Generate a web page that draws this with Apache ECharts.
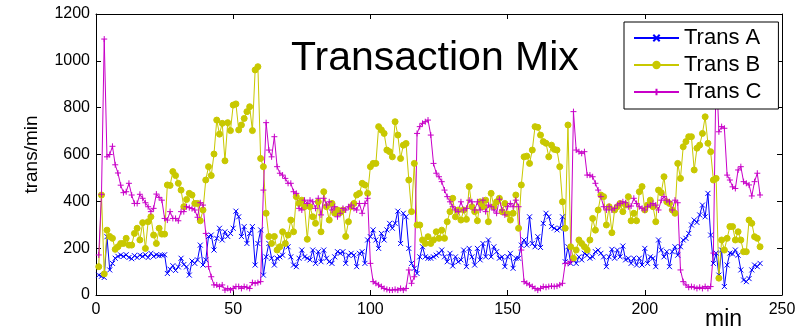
<!DOCTYPE html>
<html>
<head>
<meta charset="utf-8">
<title>Transaction Mix</title>
<script src="https://cdn.jsdelivr.net/npm/echarts@6/dist/echarts.min.js"></script>
<style>
  *{margin:0;padding:0;}
  body{background:#fff;}
  #main{width:810px;height:330px;}
</style>
</head>
<body>
<div id="main"></div>
<script type="text/javascript">
// transactions per minute, one value per minute starting at minute 1
var transA = [
  85, 80, 75, 249, 107, 135, 157, 165, 171, 165,
  172, 160, 155, 168, 160, 170, 165, 172, 160, 178,
  165, 172, 168, 170, 172, 92, 110, 125, 105, 120,
  157, 130, 120, 85, 145, 135, 150, 213, 128, 150,
  250, 256, 192, 242, 285, 235, 270, 250, 263, 285,
  358, 334, 250, 292, 220, 263, 292, 128, 220, 278,
  85, 163, 220, 157, 128, 157, 163, 170, 220, 206,
  163, 128, 121, 157, 192, 163, 157, 150, 192, 135,
  185, 142, 192, 157, 142, 135, 163, 185, 178, 185,
  135, 170, 178, 170, 121, 178, 185, 135, 235, 249,
  278, 235, 199, 263, 235, 278, 306, 285, 306, 358,
  220, 349, 334, 199, 135, 114, 92, 163, 206, 163,
  157, 157, 163, 170, 178, 192, 163, 142, 178, 124,
  163, 142, 150, 192, 121, 199, 163, 128, 199, 150,
  220, 163, 235, 163, 206, 185, 157, 163, 121, 163,
  178, 114, 157, 157, 213, 235, 213, 334, 220, 206,
  249, 203, 306, 349, 334, 292, 285, 278, 285, 334,
  142, 206, 135, 150, 135, 163, 150, 178, 170, 157,
  163, 185, 192, 178, 163, 121, 163, 195, 157, 192,
  163, 209, 150, 157, 135, 157, 128, 157, 128, 199,
  135, 163, 157, 121, 235, 192, 163, 185, 121, 185,
  206, 170, 206, 235, 242, 263, 299, 320, 310, 342,
  384, 334, 434, 256, 135, 179, 85, 192, 36, 128,
  179, 175, 192, 170, 107, 64, 57, 70, 107, 128,
  121, 135
];
var transB = [
  121, 427, 90, 277, 250, 242, 195, 206, 220, 220,
  242, 213, 213, 263, 285, 235, 309, 199, 313, 334,
  256, 220, 285, 260, 260, 470, 468, 527, 510, 477,
  448, 377, 408, 434, 427, 391, 391, 317, 363, 491,
  548, 510, 602, 747, 687, 733, 573, 736, 702, 811,
  816, 705, 726, 754, 783, 804, 702, 961, 975, 583,
  548, 349, 250, 220, 250, 192, 206, 270, 220, 256,
  320, 270, 420, 391, 405, 377, 238, 377, 334, 306,
  398, 270, 441, 377, 320, 391, 349, 363, 352, 363,
  250, 313, 377, 391, 427, 434, 477, 470, 434, 548,
  562, 562, 719, 705, 690, 619, 612, 590, 740, 683,
  583, 640, 647, 491, 356, 562, 299, 299, 235, 220,
  249, 220, 235, 270, 242, 277, 242, 313, 356, 413,
  334, 363, 320, 363, 323, 463, 377, 356, 317, 398,
  377, 405, 313, 434, 377, 398, 413, 356, 391, 346,
  320, 349, 427, 285, 470, 590, 593, 562, 619, 719,
  716, 683, 655, 648, 590, 640, 622, 619, 548, 398,
  285, 726, 206, 157, 192, 235, 220, 206, 192, 235,
  327, 277, 363, 427, 420, 299, 377, 266, 363, 377,
  391, 356, 384, 420, 317, 349, 317, 441, 463, 363,
  384, 405, 377, 313, 448, 437, 505, 398, 391, 363,
  349, 562, 498, 633, 655, 676, 676, 534, 627, 640,
  690, 761, 648, 612, 491, 498, 72, 235, 192, 242,
  292, 292, 235, 270, 235, 185, 185, 320, 306, 249,
  242, 206
];
var transC = [
  171, 430, 1093, 590, 600, 635, 556, 521, 469, 437,
  441, 477, 427, 391, 391, 430, 413, 394, 377, 356,
  370, 431, 417, 405, 327, 320, 356, 327, 327, 317,
  356, 356, 377, 373, 369, 363, 332, 394, 384, 263,
  121, 78, 43, 43, 36, 43, 21, 28, 21, 28,
  36, 36, 28, 36, 33, 28, 53, 50, 53, 57,
  448, 736, 619, 590, 676, 548, 520, 512, 498, 477,
  477, 441, 434, 370, 363, 405, 391, 405, 398, 370,
  413, 342, 413, 384, 398, 363, 377, 334, 349, 370,
  363, 377, 384, 370, 363, 391, 349, 391, 413, 135,
  57, 50, 43, 36, 28, 24, 21, 21, 24, 21,
  28, 21, 28, 107, 50, 78, 690, 719, 733, 740,
  747, 683, 562, 520, 505, 484, 448, 420, 398, 377,
  363, 356, 398, 363, 370, 405, 398, 363, 398, 363,
  405, 356, 384, 377, 363, 349, 409, 363, 342, 377,
  391, 377, 405, 377, 192, 57, 50, 43, 36, 28,
  21, 28, 36, 33, 36, 38, 36, 38, 43, 50,
  135, 135, 142, 783, 619, 612, 605, 612, 512, 512,
  505, 477, 448, 420, 377, 363, 377, 363, 370, 384,
  391, 398, 394, 377, 380, 413, 391, 377, 370, 363,
  377, 384, 391, 384, 363, 405, 420, 405, 398, 363,
  405, 394, 107, 57, 43, 33, 36, 33, 28, 33,
  28, 36, 28, 36, 179, 980, 697, 719, 712, 512,
  491, 462, 455, 534, 548, 484, 477, 470, 423, 484,
  520, 427
];
var xTicks = [0, 250, 50];     // min, max, step (minutes)
var yTicks = [0, 1200, 200];   // min, max, step (trans/min)

function toPairs(arr) {
  var out = [];
  for (var i = 0; i < arr.length; i++) out.push([i + 1, arr[i]]);
  return out;
}

var font = 'Liberation Sans';
var myChart = echarts.init(document.getElementById('main'));

function lineSeries(name, data, color, symbol, size) {
  return {
    name: name,
    type: 'line',
    data: toPairs(data),
    symbol: symbol,
    symbolSize: size,
    showAllSymbol: true,
    lineStyle: {color: color, width: 1},
    itemStyle: {color: color, borderColor: color, borderWidth: 1},
    emphasis: {disabled: true}
  };
}

var axisX = function (pos, labels) {
  return {
    type: 'value', position: pos, min: xTicks[0], max: xTicks[1], interval: xTicks[2],
    axisLine: {show: true, onZero: false, lineStyle: {color: '#000', width: 1}},
    axisTick: {show: true, inside: true, length: 5, lineStyle: {color: '#000'}},
    axisLabel: {show: labels, color: '#000', fontSize: 16, fontFamily: font, margin: 7},
    splitLine: {show: false}
  };
};
var axisY = function (pos, labels) {
  return {
    type: 'value', position: pos, min: yTicks[0], max: yTicks[1], interval: yTicks[2],
    axisLine: {show: true, onZero: false, lineStyle: {color: '#000', width: 1}},
    axisTick: {show: true, inside: true, length: 5, lineStyle: {color: '#000'}},
    axisLabel: {show: labels, color: '#000', fontSize: 16, fontFamily: font, margin: 6,
      formatter: function (v) { return String(v); }},
    splitLine: {show: false}
  };
};

var yLeft = axisY('left', true);
yLeft.name = 'trans/min';
yLeft.nameLocation = 'middle';
yLeft.nameGap = 55;
yLeft.nameTextStyle = {color: '#000', fontSize: 19, fontFamily: font};

var option = {
  animation: false,
  backgroundColor: '#fff',
  textStyle: {fontFamily: font},
  title: {
    text: 'Transaction Mix',
    left: 291, top: 38, padding: 0,
    textStyle: {fontSize: 41, fontWeight: 'normal', color: '#000', fontFamily: font}
  },
  legend: {
    orient: 'vertical',
    left: 624, top: 22,
    padding: [5, 17, 6, 9],
    itemWidth: 45, itemHeight: 8, itemGap: 5,
    backgroundColor: '#fff',
    borderColor: '#000', borderWidth: 1,
    textStyle: {fontSize: 22, color: '#000', fontFamily: font},
    data: ['Trans A', 'Trans B', 'Trans C']
  },
  grid: {left: 96, right: 28, top: 14, bottom: 35},
  xAxis: [axisX('bottom', true), axisX('top', false)],
  yAxis: [yLeft, axisY('right', false)],
  graphic: [{
    type: 'text', left: 705, top: 308,
    style: {text: 'min', fill: '#000', font: '23px "Liberation Sans"'}
  }],
  series: [
    lineSeries('Trans A', transA, '#0000ff', 'path://M0,0L1,1M1,0L0,1', 5),
    lineSeries('Trans B', transB, '#c8c800', 'circle', 6),
    lineSeries('Trans C', transC, '#c800c8', 'path://M0.5,0L0.5,1M0,0.5L1,0.5', 6)
  ]
};
myChart.setOption(option);
</script>
</body>
</html>
